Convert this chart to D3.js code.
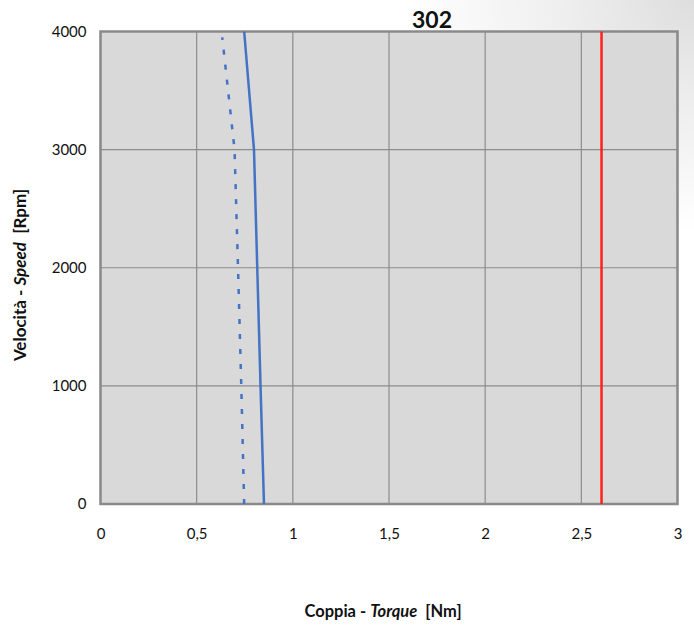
<!DOCTYPE html>
<html><head><meta charset="utf-8">
<script src="https://cdn.jsdelivr.net/npm/d3@7"></script>
<style>body{margin:0;background:#fff}svg{display:block}text{font-family:Lato,"Open Sans",sans-serif}</style>
</head><body>
<script>
const title = "302";
const xTicks = [0, 0.5, 1, 1.5, 2, 2.5, 3];
const yTicks = [0, 1000, 2000, 3000, 4000];
const solidRpm = [0, 1000, 2000, 3000, 4000];
const solidTorque = [0.85, 0.832, 0.815, 0.798, 0.747];
const dashRpm = [0, 1000, 2000, 3000, 3950];
const dashTorque = [0.747, 0.732, 0.715, 0.697, 0.633];
const limitTorque = 2.605;
const limitRpm = [0, 4000];

const W = 694, H = 625;
const svg = d3.select("body").append("svg").attr("width", W).attr("height", H);
const defs = svg.append("defs");
const rg = defs.append("radialGradient").attr("id","bg").attr("gradientUnits","userSpaceOnUse")
  .attr("cx",W).attr("cy",0).attr("r",260)
  .attr("gradientTransform",`translate(${W},0) scale(1.1,0.9) translate(${-W},0)`);
rg.append("stop").attr("offset",0).attr("stop-color","#dedede");
rg.append("stop").attr("offset",0.45).attr("stop-color","#eeeeee");
rg.append("stop").attr("offset",1).attr("stop-color","#ffffff");
svg.append("rect").attr("width",W).attr("height",H).attr("fill","url(#bg)");

const L = 100.5, R = 677.5, T = 31.5, B = 504;
const x = d3.scaleLinear().domain([0,3]).range([L,R]);
const y = d3.scaleLinear().domain([0,4000]).range([B,T]);

svg.append("rect").attr("x",L).attr("y",T).attr("width",R-L).attr("height",B-T).attr("fill","#d9d9d9");

const grid = svg.append("g").attr("stroke","#8c8c8c").attr("stroke-width",1.2);
xTicks.forEach(t => grid.append("line").attr("x1",x(t)).attr("x2",x(t)).attr("y1",T).attr("y2",B));
yTicks.forEach(t => grid.append("line").attr("x1",L).attr("x2",R).attr("y1",y(t)).attr("y2",y(t)));

svg.append("rect").attr("x",L).attr("y",T).attr("width",R-L).attr("height",B-T)
  .attr("fill","none").attr("stroke","#8a8a8a").attr("stroke-width",2.5);

const line = d3.line().x(d=>x(d[0])).y(d=>y(d[1]));
svg.append("path").datum(dashTorque.map((v,i)=>[v,dashRpm[i]])).attr("d",line)
  .attr("fill","none").attr("stroke","#4472c4").attr("stroke-width",2.5).attr("stroke-dasharray","5,10");
svg.append("path").datum(solidTorque.map((v,i)=>[v,solidRpm[i]])).attr("d",line)
  .attr("fill","none").attr("stroke","#4472c4").attr("stroke-width",2.5);
svg.append("path").datum(limitRpm.map(r=>[limitTorque,r])).attr("d",line)
  .attr("fill","none").attr("stroke","#ff2020").attr("stroke-width",2.5);

const xAxis = d3.axisBottom(x).tickValues(xTicks).tickSize(0).tickPadding(0)
  .tickFormat(d => String(d).replace(".", ","));
const gx = svg.append("g").attr("transform",`translate(0,${B+24})`).call(xAxis);
gx.select(".domain").remove();
gx.selectAll("text").attr("font-size",15).attr("fill","#111").attr("dy","0.71em").attr("font-family","Lato");

const yAxis = d3.axisLeft(y).tickValues(yTicks).tickSize(0).tickPadding(0).tickFormat(d3.format("d"));
const gy = svg.append("g").attr("transform",`translate(${L-14},0)`).call(yAxis);
gy.select(".domain").remove();
gy.selectAll("text").attr("font-size",15).attr("fill","#111").attr("font-family","Lato");

svg.append("text").attr("x",432).attr("y",28).attr("text-anchor","middle")
  .attr("font-size",23).attr("font-weight","bold").attr("fill","#111").text(title);

const xl = svg.append("text").attr("x",383).attr("y",617).attr("text-anchor","middle")
  .attr("font-size",16.5).attr("font-weight","bold").attr("fill","#111").attr("xml:space","preserve");
xl.append("tspan").text("Coppia - ");
xl.append("tspan").attr("font-style","italic").text("Torque");
xl.append("tspan").text("  [Nm]");

const yl = svg.append("text").attr("transform","translate(26,275) rotate(-90)").attr("text-anchor","middle")
  .attr("font-size",17).attr("font-weight","bold").attr("fill","#111").attr("xml:space","preserve");
yl.append("tspan").text("Velocità - ");
yl.append("tspan").attr("font-style","italic").text("Speed");
yl.append("tspan").text("  [Rpm]");
</script>
</body></html>
